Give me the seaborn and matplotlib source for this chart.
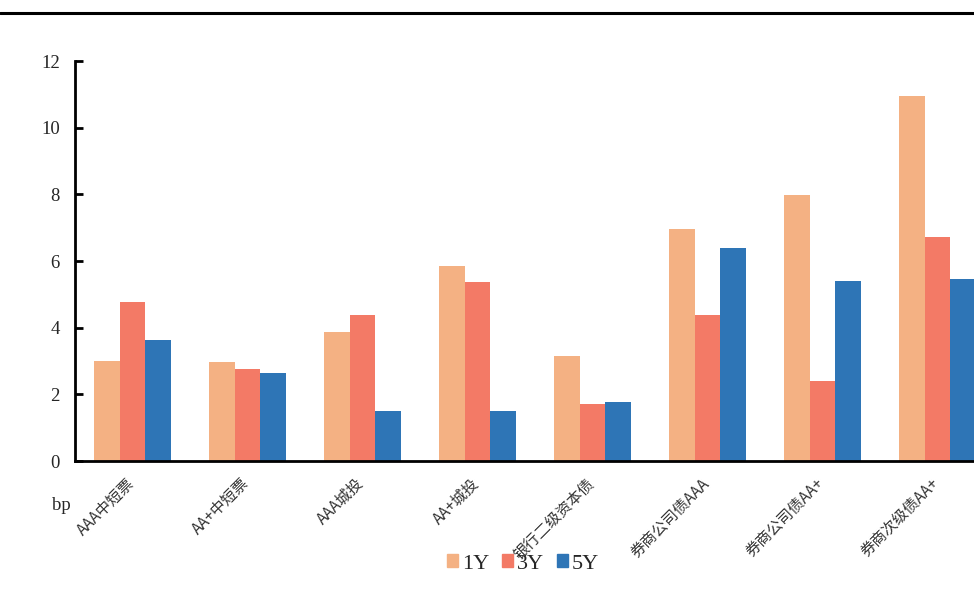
import matplotlib
matplotlib.use("Agg")
import matplotlib.pyplot as plt
import matplotlib.transforms as mtransforms
import seaborn as sns
import pandas as pd
from matplotlib.lines import Line2D

categories = ["AAA中短票", "AA+中短票", "AAA城投", "AA+城投", "银行二级资本债",
              "券商公司债AAA", "券商公司债AA+", "券商次级债AA+"]
series = ["1Y", "3Y", "5Y"]
v1y = [3.00, 2.97, 3.87, 5.85, 3.15, 6.96, 7.98, 10.95]
v3y = [4.77, 2.76, 4.38, 5.37, 1.71, 4.38, 2.40, 6.72]
v5y = [3.63, 2.64, 1.50, 1.50, 1.77, 6.39, 5.40, 5.46]
yticks = [0, 2, 4, 6, 8, 10, 12]
colors = ["#F4B183", "#F37A66", "#2E75B6"]

rows = []
for s, vals in zip(series, [v1y, v3y, v5y]):
    for c, v in zip(categories, vals):
        rows.append({"cat": c, "series": s, "val": v})
df = pd.DataFrame(rows)

sns.set_theme(style="white")
plt.rcParams["font.family"] = ["Liberation Serif", "Noto Sans CJK SC"]

fig = plt.figure(figsize=(9.74, 5.92), dpi=100)
ax = fig.add_axes([75/974, (592-461)/592, (995-75)/974, 400/592])

sns.barplot(data=df, x="cat", y="val", hue="series", order=categories,
            hue_order=series, palette=colors, width=0.67, ax=ax,
            saturation=1, edgecolor="none", linewidth=0, legend=True)

ax.set_ylim(0, 12)
ax.set_xlim(-0.5, len(categories) - 0.5)
ax.set_yticks(yticks)
ax.set_yticklabels([str(t) for t in yticks], fontsize=13.5)
ax.tick_params(axis="y", direction="in", length=6, width=2, color="black", pad=11, left=True)
ax.tick_params(axis="x", length=0, pad=10)
ax.set_xticks(range(len(categories)))
ax.set_xticklabels(categories, rotation=45, ha="right", rotation_mode="anchor",
                   fontsize=11, color="#333333",
                   family=["Noto Sans CJK SC", "DejaVu Sans"], fontweight="light")
offset = mtransforms.ScaledTranslation(-7/100, 0, fig.dpi_scale_trans)
for lbl in ax.get_xticklabels():
    lbl.set_transform(lbl.get_transform() + offset)
ax.set_xlabel("")
ax.set_ylabel("")
for side in ["top", "right"]:
    ax.spines[side].set_visible(False)
for side in ["left", "bottom"]:
    ax.spines[side].set_color("black")
    ax.spines[side].set_linewidth(2)

ax.legend_.remove()
handles = [plt.Rectangle((0, 0), 1, 1, color=c) for c in colors]
fig.legend(handles, series, loc="center", bbox_to_anchor=(523/974, 1 - 564/592),
           ncol=3, frameon=False, fontsize=16, handlelength=0.5, handleheight=0.5,
           handletextpad=0.2, columnspacing=0.55)

fig.text(61/974, 1 - 505/592, "bp", ha="center", va="center", fontsize=13.5)

fig.add_artist(Line2D([0, 1], [1 - 13/592, 1 - 13/592], color="black", linewidth=2.2,
                      transform=fig.transFigure))

fig.savefig("out.png", dpi=100)
